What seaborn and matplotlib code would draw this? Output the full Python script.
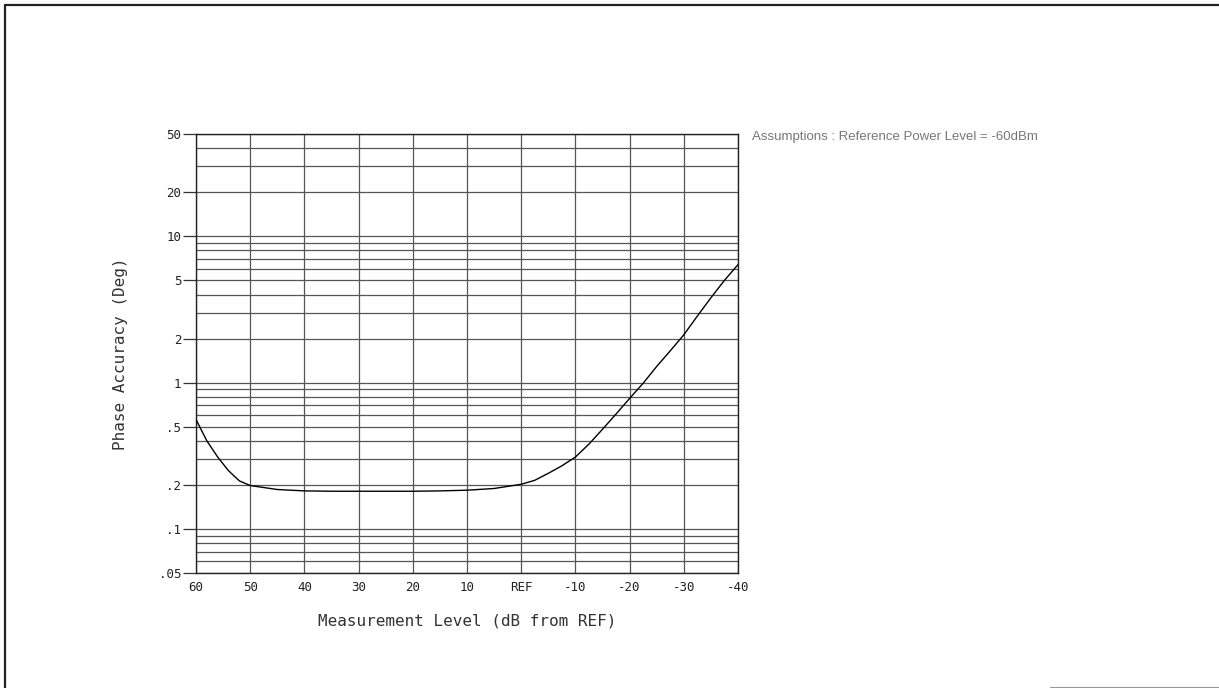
import numpy as np
import pandas as pd
import matplotlib
matplotlib.use("Agg")
import matplotlib.pyplot as plt
from matplotlib.lines import Line2D
from matplotlib.ticker import FixedLocator, NullFormatter
import seaborn as sns

# ---- data ----
level_db = [60, 58, 56, 54, 52, 50, 45, 40, 35, 30, 25, 20, 15, 10, 5, 0,
            -2.5, -5, -7.5, -10, -12.5, -15, -17.5, -20, -22.5, -25, -27.5,
            -30, -32.5, -35, -37.5, -40]
phase_acc = [0.56, 0.40, 0.31, 0.25, 0.213, 0.198, 0.186, 0.182, 0.181, 0.181,
             0.181, 0.181, 0.182, 0.184, 0.189, 0.202, 0.215, 0.24, 0.27, 0.31,
             0.38, 0.48, 0.61, 0.78, 0.99, 1.29, 1.65, 2.12, 2.85, 3.8, 5.0, 6.4]

x_ticks = [60, 50, 40, 30, 20, 10, 0, -10, -20, -30, -40]
x_tick_labels = ["60", "50", "40", "30", "20", "10", "REF", "-10", "-20", "-30", "-40"]
y_ticks = [50, 20, 10, 5, 2, 1, 0.5, 0.2, 0.1, 0.05]
y_tick_labels = ["50", "20", "10", "5", "2", "1", ".5", ".2", ".1", ".05"]
y_grid = [m * d for d in (0.01, 0.1, 1, 10) for m in range(1, 10) if 0.05 <= m * d <= 50]

x_label = "Measurement Level (dB from REF)"
y_label = "Phase Accuracy (Deg)"
note = "Assumptions : Reference Power Level = -60dBm"

df = pd.DataFrame({"level": level_db, "acc": phase_acc})

sns.set_theme(style="white")
plt.rcParams["font.family"] = ["DejaVu Sans Mono", "DejaVu Sans"]

W, H = 1219, 688
fig = plt.figure(figsize=(W / 100, H / 100), dpi=100)
fig.patch.set_facecolor("white")
ax = fig.add_axes([196 / W, 1 - 573 / H, (738 - 196) / W, (573 - 134) / H])
ax.set_facecolor("white")

sns.lineplot(data=df, x="level", y="acc", ax=ax, color="black", linewidth=1.0,
             sort=False, zorder=5)

ax.set_yscale("log")
ax.set_xlim(60, -40)
ax.set_ylim(0.05, 50)

ax.set_xticks(x_ticks)
ax.set_xticklabels(x_tick_labels)
ax.yaxis.set_major_locator(FixedLocator(y_ticks))
ax.set_yticklabels(y_tick_labels)
ax.yaxis.set_minor_locator(FixedLocator(y_grid))
ax.yaxis.set_minor_formatter(NullFormatter())

ax.tick_params(axis="y", which="major", direction="out", length=9.5, width=0.9,
               color="#333333", pad=1, labelsize=9, labelcolor="#222222", left=True)
ax.tick_params(axis="y", which="minor", length=0)
ax.tick_params(axis="x", which="major", length=0, pad=6, labelsize=9,
               labelcolor="#222222")

ax.grid(False)
for yv in y_grid:
    ax.axhline(yv, color="#555555", linewidth=0.9, zorder=1)
for xv in x_ticks:
    ax.axvline(xv, color="#555555", linewidth=0.9, zorder=1)

for s in ax.spines.values():
    s.set_color("#222222")
    s.set_linewidth(1.0)
    s.set_visible(True)

ax.set_xlabel(x_label, fontsize=11.5, color="#333333", labelpad=14)
ax.set_ylabel(y_label, fontsize=11.5, color="#333333", labelpad=22)

fig.text(752 / W, 1 - 140 / H, note, fontsize=9.5, color="#777777",
         family=["Liberation Sans", "DejaVu Sans"], ha="left", va="baseline")

# page frame (scan border)
fig.add_artist(Line2D([5 / W, 5 / W], [0, 1 - 5 / H], transform=fig.transFigure,
                      color="#222222", linewidth=1.6))
fig.add_artist(Line2D([5 / W, 1], [1 - 5 / H, 1 - 5 / H], transform=fig.transFigure,
                      color="#222222", linewidth=1.6))
fig.add_artist(Line2D([1050 / W, 1], [1.2 / H, 1.2 / H], transform=fig.transFigure,
                      color="#999999", linewidth=0.8))

fig.savefig("out.png", dpi=100, facecolor="white")
